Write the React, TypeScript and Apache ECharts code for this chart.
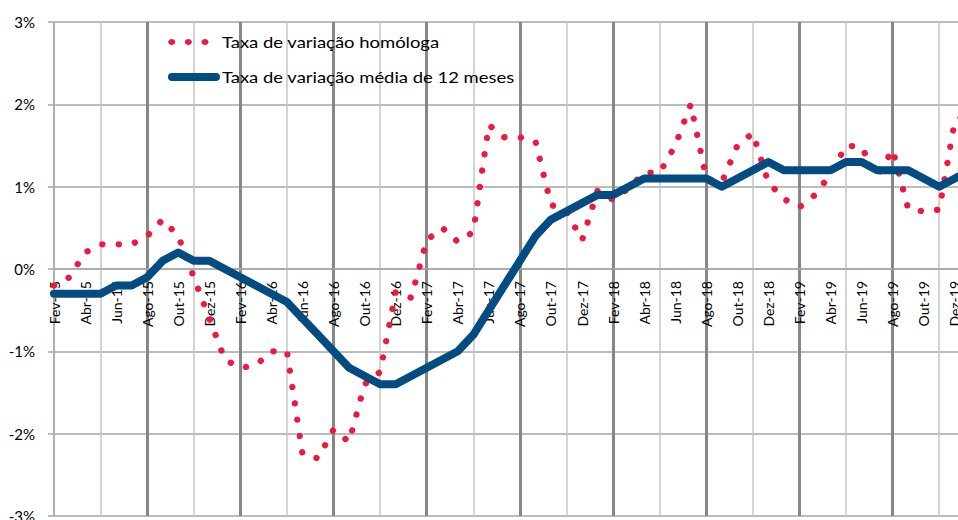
import React, { useEffect, useRef } from "react";
import * as echarts from "echarts";

const months = [
  "Fev-15", "Mar-15", "Abr-15", "Mai-15", "Jun-15", "Jul-15", "Ago-15", "Set-15", "Out-15", "Nov-15", "Dez-15",
  "Jan-16", "Fev-16", "Mar-16", "Abr-16", "Mai-16", "Jun-16", "Jul-16", "Ago-16", "Set-16", "Out-16", "Nov-16", "Dez-16",
  "Jan-17", "Fev-17", "Mar-17", "Abr-17", "Mai-17", "Jun-17", "Jul-17", "Ago-17", "Set-17", "Out-17", "Nov-17", "Dez-17",
  "Jan-18", "Fev-18", "Mar-18", "Abr-18", "Mai-18", "Jun-18", "Jul-18", "Ago-18", "Set-18", "Out-18", "Nov-18", "Dez-18",
  "Jan-19", "Fev-19", "Mar-19", "Abr-19", "Mai-19", "Jun-19", "Jul-19", "Ago-19", "Set-19", "Out-19", "Nov-19", "Dez-19",
  "Jan-20",
];

// Taxa de variação homóloga (%)
const homologa = [
  -0.2, -0.1, 0.2, 0.3, 0.3, 0.3, 0.4, 0.6, 0.4, -0.1, -0.6,
  -1.1, -1.2, -1.17, -1.0, -1.0, -2.25, -2.3, -1.95, -2.1, -1.4, -1.25, -0.28,
  -0.35, 0.35, 0.5, 0.33, 0.45, 1.75, 1.6, 1.6, 1.55, 0.78, 0.7, 0.35,
  0.95, 0.84, 0.98, 1.17, 1.17, 1.5, 2.0, 1.1, 1.05, 1.5, 1.65, 1.05,
  0.85, 0.75, 0.9, 1.15, 1.5, 1.48, 1.12, 1.45, 0.73, 0.7, 0.72, 1.8,
  1.9,
];

// Taxa de variação média de 12 meses (%)
const media12 = [
  -0.3, -0.3, -0.3, -0.3, -0.2, -0.2, -0.1, 0.1, 0.2, 0.1, 0.1,
  0.0, -0.1, -0.2, -0.3, -0.4, -0.6, -0.8, -1.0, -1.2, -1.3, -1.4, -1.4,
  -1.3, -1.2, -1.1, -1.0, -0.8, -0.5, -0.2, 0.1, 0.4, 0.6, 0.7, 0.8,
  0.9, 0.9, 1.0, 1.1, 1.1, 1.1, 1.1, 1.1, 1.0, 1.1, 1.2, 1.3,
  1.2, 1.2, 1.2, 1.2, 1.3, 1.3, 1.2, 1.2, 1.2, 1.1, 1.0, 1.1,
  1.2,
];

const yMin = -3;
const yMax = 3;
const yStep = 1;

const legendNames = ["Taxa de variação homóloga", "Taxa de variação média de 12 meses"];

const RED = "#ec1a3f";
const BLUE = "#034c82";
const FONT = "Lato";

const GRID_TOP = 22;
const GRID_BOTTOM = 4;
const CHART_H = 520;

export default function App() {
  const ref = useRef<HTMLDivElement>(null);

  useEffect(() => {
    if (!ref.current) return;
    const chart = echarts.init(ref.current, undefined, { renderer: "svg" });
    const plotH = CHART_H - GRID_TOP - GRID_BOTTOM;
    // move the category axis (line + labels) up to the 0% level
    const zeroOffset = -plotH * (0 - yMin) / (yMax - yMin);
    const option: any = {
      animation: false,
      grid: {
        left: 54,
        right: -12.3,
        top: GRID_TOP,
        bottom: GRID_BOTTOM,
        containLabel: false,
        outerBoundsMode: "none",
      },
      xAxis: [
        {
          type: "category",
          data: months,
          boundaryGap: false,
          position: "bottom",
          offset: zeroOffset,
          axisLine: { show: true, onZero: false, lineStyle: { color: "#a6a6a6", width: 1.5 } },
          axisTick: { show: false },
          axisLabel: {
            interval: 1,
            rotate: 90,
            margin: 12,
            fontSize: 14,
            fontFamily: FONT,
            color: "#000",
          },
          splitLine: {
            show: true,
            interval: (i: number) => i % 3 === 0,
            lineStyle: { color: "#c6c6c6", width: 1.5 },
          },
        },
        {
          type: "category",
          data: months,
          boundaryGap: false,
          position: "bottom",
          axisLine: { show: false, onZero: false },
          axisTick: { show: false },
          axisLabel: { show: false },
          splitLine: {
            show: true,
            interval: (i: number) => i % 6 === 0 && i > 0,
            lineStyle: { color: "#878787", width: 3 },
          },
        },
      ],
      yAxis: {
        type: "value",
        min: yMin,
        max: yMax,
        interval: yStep,
        axisLine: { show: true, onZero: false, lineStyle: { color: "#a6a6a6", width: 1.5 } },
        axisTick: { show: true, length: 6, lineStyle: { color: "#a6a6a6", width: 1.5 } },
        axisLabel: {
          formatter: (v: number) => `${v}%`,
          margin: 19,
          fontSize: 15,
          fontFamily: FONT,
          color: "#000",
        },
        splitLine: { show: true, lineStyle: { color: "#a6a6a6", width: 1.5 } },
      },
      series: [
        {
          name: legendNames[0],
          type: "line",
          data: homologa,
          xAxisIndex: 0,
          showSymbol: false,
          symbol: "none",
          lineStyle: { color: RED, width: 6.3, type: [0.1, 16.4], cap: "round", join: "round" },
          z: 3,
        },
        {
          name: legendNames[1],
          type: "line",
          data: media12,
          xAxisIndex: 0,
          showSymbol: false,
          symbol: "none",
          lineStyle: { color: BLUE, width: 8, cap: "round", join: "round" },
          z: 4,
        },
      ],
      graphic: [
        { type: "ellipse", shape: { cx: 171.7, cy: 42, rx: 3.5, ry: 3 }, style: { fill: RED }, z: 10 },
        { type: "ellipse", shape: { cx: 188.3, cy: 42, rx: 3.5, ry: 3 }, style: { fill: RED }, z: 10 },
        { type: "ellipse", shape: { cx: 205, cy: 42, rx: 3.5, ry: 3 }, style: { fill: RED }, z: 10 },
        {
          type: "text",
          x: 222,
          y: 42,
          scaleX: 1.23,
          style: { text: legendNames[0], font: `15px ${FONT}`, fill: "#000", verticalAlign: "middle" },
          z: 10,
        },
        {
          type: "line",
          shape: { x1: 172, y1: 77, x2: 216, y2: 77 },
          style: { stroke: BLUE, lineWidth: 8, lineCap: "round" },
          z: 10,
        },
        {
          type: "text",
          x: 222,
          y: 77,
          scaleX: 1.23,
          style: { text: legendNames[1], font: `15px ${FONT}`, fill: "#000", verticalAlign: "middle" },
          z: 10,
        },
      ],
    };
    chart.setOption(option);
    return () => chart.dispose();
  }, []);

  return (
    <div
      ref={ref}
      style={{ position: "absolute", left: 0, top: 0, width: 958, height: 520, background: "#fff" }}
    />
  );
}
